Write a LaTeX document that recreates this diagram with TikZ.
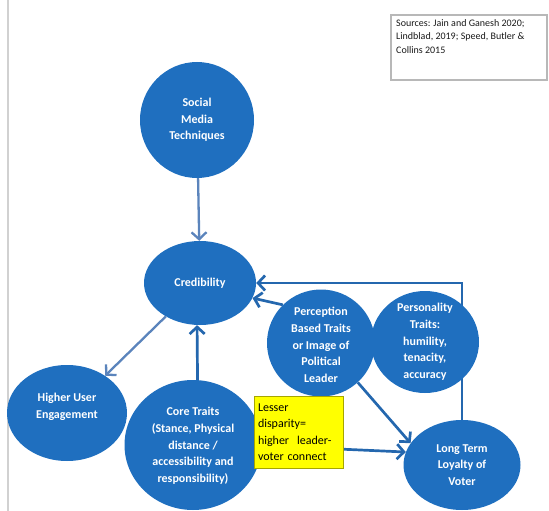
\documentclass[tikz,border=0pt]{standalone}
\usepackage{fontspec}
\setmainfont{Carlito}
\usetikzlibrary{arrows.meta,shapes.geometric,backgrounds}
\definecolor{cblue}{HTML}{1F6FBF}
\definecolor{dblue}{HTML}{2467AE}
\definecolor{sblue}{HTML}{5B84BC}
\definecolor{ybox}{HTML}{FFFF00}
\begin{document}
\begin{tikzpicture}[x=1pt,y=-1pt,
  circ/.style={ellipse, fill=cblue, inner sep=0pt},
  ctext/.style={text=white, font=\bfseries\fontsize{12}{16.7}\selectfont, align=center, inner sep=0pt},
  arr/.style={line width=2.7pt, dblue, -{Straight Barb[length=7pt,width=15pt]}},
  sarr/.style={arr, sblue, line width=2.3pt}]
\useasboundingbox (0,0) rectangle (549,511);
\draw[line width=1.2pt, black!18] (8,0) -- (8,511);

% sources box
\node[draw=black!28, line width=1.2pt, minimum width=156pt, minimum height=65pt, inner sep=0pt] (src) at (469,47.5) {};
\node[anchor=north west, align=left, inner sep=0pt, font=\fontsize{10}{13.5}\selectfont, text=black!90] (srct) at (396,19) {Sources: Jain and Ganesh 2020;\\Lindblad, 2019; Speed, Butler \&\\Collins 2015};

% circles
\node[circ, minimum width=114pt, minimum height=116pt] (soc) at (197,120) {};
\node[ctext] (soct) at (soc) {Social\\Media\\Techniques};
\node[circ, minimum width=112pt, minimum height=84pt] (cred) at (200,283) {};
\node[ctext] (credt) at (cred) {Credibility};
\node[circ, minimum width=108pt, minimum height=107pt] (perc) at (321,343) {};
\node[ctext] (perct) at (321,345) {Perception\\Based Traits\\or Image of\\Political\\Leader};
\node[circ, minimum width=108pt, minimum height=102pt] (pers) at (425,342) {};
\node[ctext] (perst) at (425,342) {Personality\\Traits:\\humility,\\tenacity,\\accuracy};
\node[circ, minimum width=120pt, minimum height=96pt] (eng) at (67,413) {};
\node[ctext] (engt) at (67,407) {Higher User\\Engagement};
\node[circ, minimum width=137pt, minimum height=130pt] (core) at (193,445) {};
\node[ctext] (coret) at (193,446) {Core Traits\\(Stance, Physical\\distance /\\accessibility and\\responsibility)};
\node[circ, minimum width=117pt, minimum height=90pt] (loy) at (462,465) {};
\node[ctext] (loyt) at (462,465) {Long Term\\Loyalty of\\Voter};

% yellow note
\node[draw=black!35!ybox, fill=ybox, line width=0.8pt, minimum width=89pt, minimum height=72pt, text width=81pt, inner sep=4pt, align=left, font=\fontsize{12}{16.5}\selectfont] (yel) at (298.5,432) {Lesser\\disparity=\\higher~~leader-\\voter connect};

% connectors
\begin{scope}[on background layer]
\draw[sarr] (soc) -- (cred);
\draw[sarr] (cred) -- (eng);
\draw[arr] (core.86) -- (cred.266);
\draw[arr] (perc.135) -- (cred.-16);
\draw[arr] (loy.north) |- (cred.east);
\draw[arr] (perc.-47) -- (loy.157);
\draw[arr] (yel.-21) -- (loy.167);
\end{scope}
\end{tikzpicture}
\end{document}
